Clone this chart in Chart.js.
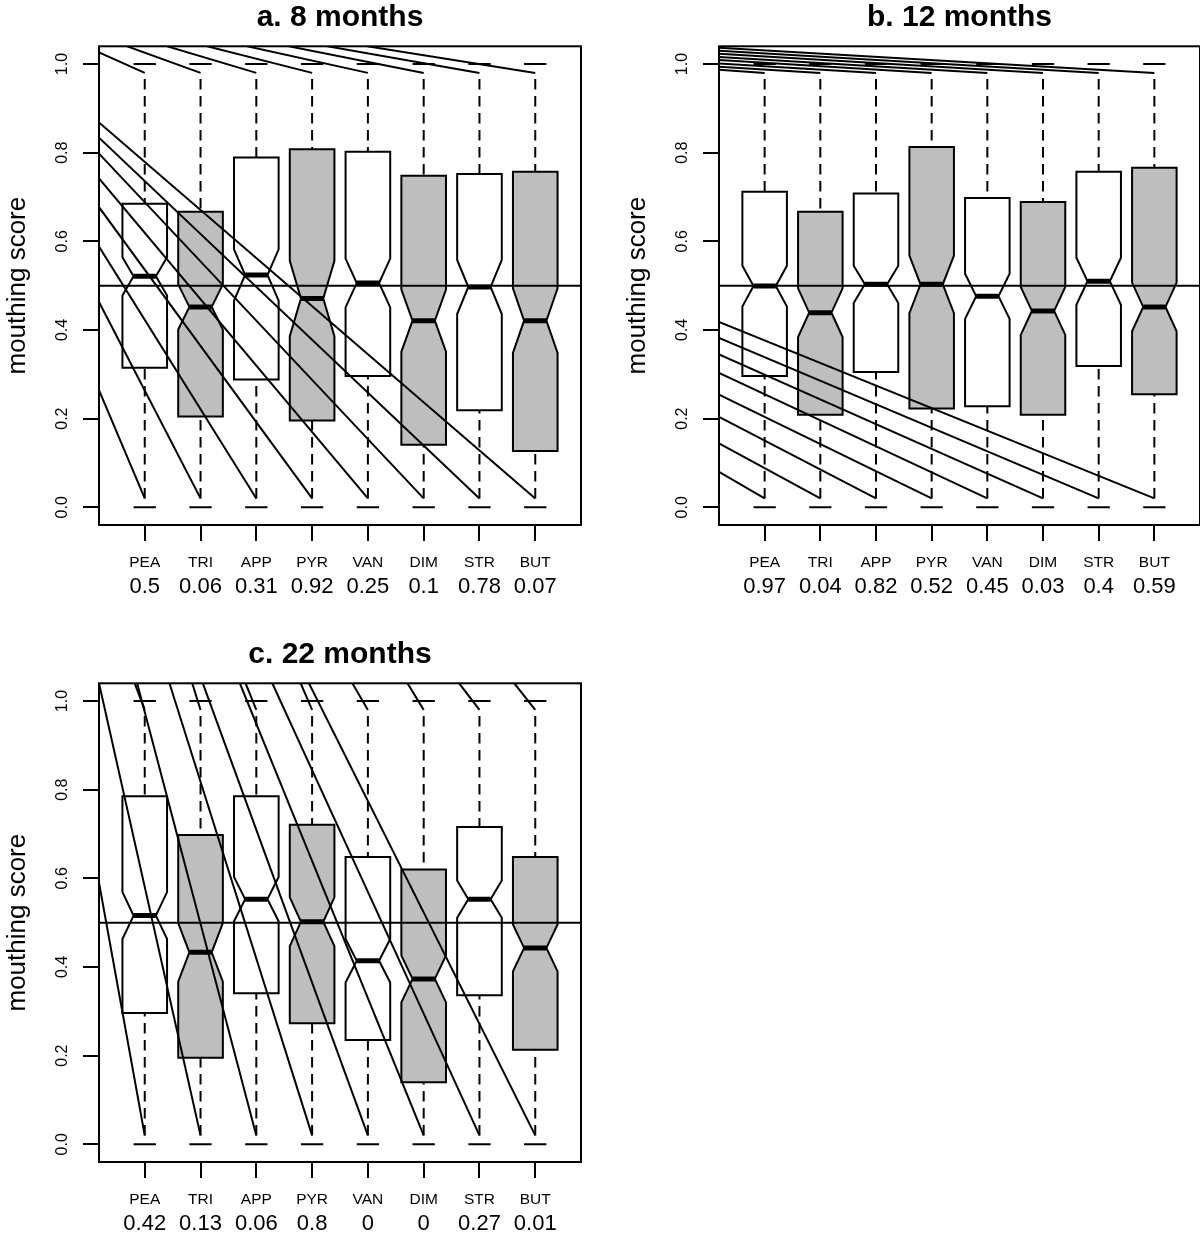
<!DOCTYPE html>
<html>
<head>
<meta charset="utf-8">
<title>Mouthing score by odour</title>
<script src="https://cdn.jsdelivr.net/npm/chart.js@4.4.1/dist/chart.umd.min.js"></script>
<style>
  html, body { margin: 0; padding: 0; background: #fff; }
  body { width: 1200px; height: 1236px; position: relative; overflow: hidden; }
  canvas { position: absolute; }
</style>
</head>
<body>
<canvas id="panelA" width="600" height="600" style="left:0;top:0"></canvas>
<canvas id="panelB" width="580" height="600" style="left:620px;top:0"></canvas>
<canvas id="panelC" width="600" height="600" style="left:0;top:637px"></canvas>
<script>
var categories = ['PEA', 'TRI', 'APP', 'PYR', 'VAN', 'DIM', 'STR', 'BUT'];
var shaded = [false, true, false, true, false, true, false, true];
var yTicks = [0, 0.2, 0.4, 0.6, 0.8, 1.0];
var whiskerTop = 0.98, whiskerBottom = 0.02;   // ends of the dashed whiskers
var extremeTop = 1.0, extremeBottom = 0.0;     // staples
var refLine = 0.5;

/* a. 8 months */
var upperA  = [0.685, 0.667, 0.789, 0.808, 0.802, 0.748, 0.752, 0.757];
var medianA = [0.521, 0.452, 0.524, 0.471, 0.506, 0.421, 0.497, 0.421];
var lowerA  = [0.315, 0.205, 0.288, 0.196, 0.296, 0.141, 0.219, 0.127];
var notchA  = [0.043, 0.051, 0.058, 0.085, 0.055, 0.070, 0.061, 0.073];
var pA = ['0.5', '0.06', '0.31', '0.92', '0.25', '0.1', '0.78', '0.07'];
// stray strokes running from the frame to each whisker end
var topFromXA = [0.18, 0.684, 1.402, 2.12, 2.838, 3.585, 4.274, 4.992];
var topFromYA = [1.026, 1.04, 1.04, 1.04, 1.04, 1.04, 1.04, 1.04];
var botFromXA = [0.18, 0.18, 0.18, 0.18, 0.18, 0.18, 0.18, 0.18];
var botFromYA = [0.264, 0.463, 0.588, 0.677, 0.742, 0.798, 0.834, 0.868];

/* b. 12 months */
var upperB  = [0.712, 0.667, 0.708, 0.813, 0.698, 0.689, 0.757, 0.766];
var medianB = [0.499, 0.439, 0.503, 0.503, 0.476, 0.443, 0.510, 0.452];
var lowerB  = [0.296, 0.209, 0.305, 0.223, 0.228, 0.209, 0.319, 0.255];
var notchB  = [0.046, 0.055, 0.042, 0.065, 0.051, 0.054, 0.053, 0.055];
var pB = ['0.97', '0.04', '0.82', '0.52', '0.45', '0.03', '0.4', '0.59'];
var topFromXB = [0.18, 0.18, 0.18, 0.18, 0.18, 0.18, 0.18, 0.18];
var topFromYB = [0.987, 0.994, 1.001, 1.009, 1.016, 1.023, 1.030, 1.037];
var botFromXB = [0.18, 0.18, 0.18, 0.18, 0.18, 0.18, 0.18, 0.18];
var botFromYB = [0.080, 0.144, 0.204, 0.254, 0.303, 0.345, 0.382, 0.418];

/* c. 22 months */
var upperC  = [0.785, 0.698, 0.785, 0.721, 0.648, 0.620, 0.716, 0.648];
var medianC = [0.516, 0.433, 0.553, 0.502, 0.414, 0.373, 0.553, 0.443];
var lowerC  = [0.296, 0.195, 0.341, 0.273, 0.235, 0.140, 0.336, 0.213];
var notchC  = [0.053, 0.066, 0.050, 0.055, 0.049, 0.053, 0.042, 0.053];
var pC = ['0.42', '0.13', '0.06', '0.8', '0', '0', '0.27', '0.01'];
var topFromXC = [0.820, 1.851, 2.808, 3.795, 4.722, 5.710, 6.636, 7.624];
var topFromYC = [1.04, 1.04, 1.04, 1.04, 1.04, 1.04, 1.04, 1.04];
var botFromXC = [0.18, 0.18, 0.864, 1.443, 2.041, 2.705, 3.287, 3.944];
var botFromYC = [0.59, 1.04, 1.04, 1.04, 1.04, 1.04, 1.04, 1.04];

var X_MIN = 0.18, X_MAX = 8.82, Y_MIN = -0.04, Y_MAX = 1.04;
var BOX_HALF = 0.4, NOTCH_HALF = 0.2, STAPLE_HALF = 0.2;
var FONT = '"Liberation Sans", Arial, Helvetica, sans-serif';

Chart.defaults.font.family = FONT;
Chart.defaults.color = '#000';
Chart.defaults.animation = false;

function seg(x0, y0, x1, y1, extra) {
    return Object.assign({
        data: [{ x: x0, y: y0 }, { x: x1, y: y1 }],
        showLine: true, borderColor: '#000', backgroundColor: '#000',
        borderWidth: 2, pointRadius: 0, pointHoverRadius: 0, fill: false
    }, extra || {});
}

function boxPlugin(d) {
    return {
        id: 'notchedBoxes',
        beforeDatasetsDraw: function(chart) {
            var ctx = chart.ctx, x = chart.scales.x, y = chart.scales.y;
            var kx = [-1, 1, 1, NOTCH_HALF / BOX_HALF, 1, 1, -1, -1, -NOTCH_HALF / BOX_HALF, -1];
            ctx.save();
            ctx.lineWidth = 2; ctx.strokeStyle = '#000'; ctx.lineJoin = 'miter';
            for (var i = 0; i < categories.length; i++) {
                var pos = i + 1, m = d.median[i];
                var lo = m - d.notch[i], hi = m + d.notch[i];
                var vy = [d.lower[i], d.lower[i], lo, m, hi, d.upper[i], d.upper[i], hi, m, lo];
                ctx.beginPath();
                for (var j = 0; j < kx.length; j++) {
                    var px = x.getPixelForValue(pos + kx[j] * BOX_HALF), py = y.getPixelForValue(vy[j]);
                    if (j === 0) ctx.moveTo(px, py); else ctx.lineTo(px, py);
                }
                ctx.closePath();
                ctx.fillStyle = shaded[i] ? '#bebebe' : '#ffffff';
                ctx.fill(); ctx.stroke();
            }
            ctx.restore();
        },
        afterDraw: function(chart) {
            var ctx = chart.ctx, a = chart.chartArea, y = chart.scales.y;
            ctx.save();
            ctx.lineWidth = 2; ctx.strokeStyle = '#000';
            ctx.strokeRect(a.left, a.top, a.right - a.left, a.bottom - a.top);
            ctx.font = '16px ' + FONT;
            ctx.fillStyle = '#000'; ctx.textAlign = 'center'; ctx.textBaseline = 'alphabetic';
            yTicks.forEach(function(v) {
                ctx.save();
                ctx.translate(a.left - 32, y.getPixelForValue(v));
                ctx.rotate(-Math.PI / 2);
                ctx.fillText(v.toFixed(1), 0, 0);
                ctx.restore();
            });
            ctx.restore();
        }
    };
}

function tickList() { return categories.map(function(c, i) { return { value: i + 1 }; }); }

function makePanel(id, title, d, padRight) {
    var sets = [];
    for (var i = 0; i < categories.length; i++) {
        var pos = i + 1;
        sets.push(seg(pos - NOTCH_HALF, d.median[i], pos + NOTCH_HALF, d.median[i], { borderWidth: 5, borderCapStyle: 'butt' }));
        sets.push(seg(pos, whiskerTop, pos, d.upper[i], { borderDash: [10.5, 6.5], borderDashOffset: 11 }));
        sets.push(seg(pos, whiskerBottom, pos, d.lower[i], { borderDash: [10.5, 6.5] }));
        sets.push(seg(pos - STAPLE_HALF, extremeTop, pos + STAPLE_HALF, extremeTop));
        sets.push(seg(pos - STAPLE_HALF, extremeBottom, pos + STAPLE_HALF, extremeBottom));
        sets.push(seg(d.topFromX[i], d.topFromY[i], pos, whiskerTop));
        sets.push(seg(d.botFromX[i], d.botFromY[i], pos, whiskerBottom));
    }
    sets.push(seg(X_MIN, refLine, X_MAX, refLine));

    new Chart(document.getElementById(id), {
        type: 'scatter',
        data: { datasets: sets },
        plugins: [boxPlugin(d)],
        options: {
            responsive: false,
            events: [],
            layout: { padding: { left: 0, right: padRight, top: 0, bottom: 1 } },
            plugins: {
                legend: { display: false },
                tooltip: { enabled: false },
                title: {
                    display: true, text: title, fullSize: false, color: '#000',
                    font: { size: 30, weight: 'bold' }, padding: { top: 0, bottom: 10.3 }
                }
            },
            scales: {
                x: {
                    type: 'linear', position: 'bottom', min: X_MIN, max: X_MAX, weight: 0,
                    afterBuildTicks: function(s) { s.ticks = tickList(); },
                    afterFit: function(s) { s.height = 50; },
                    ticks: {
                        autoSkip: false, maxRotation: 0, minRotation: 0, padding: 12.5,
                        font: { size: 15.5 }, color: '#000',
                        callback: function(v, i) { return categories[i]; }
                    },
                    grid: { drawOnChartArea: false, drawTicks: true, tickLength: 16, color: '#000', lineWidth: 2 },
                    border: { display: false }
                },
                x2: {
                    type: 'linear', position: 'bottom', min: X_MIN, max: X_MAX, weight: 1,
                    afterBuildTicks: function(s) { s.ticks = tickList(); },
                    afterFit: function(s) { s.height = 24; },
                    ticks: {
                        autoSkip: false, maxRotation: 0, minRotation: 0, padding: 0.8,
                        font: { size: 22, lineHeight: 1 }, color: '#000',
                        callback: function(v, i) { return d.p[i]; }
                    },
                    grid: { display: false, drawTicks: false },
                    border: { display: false }
                },
                y: {
                    type: 'linear', position: 'left', min: Y_MIN, max: Y_MAX,
                    afterBuildTicks: function(s) { s.ticks = yTicks.map(function(v) { return { value: v }; }); },
                    afterFit: function(s) { s.width = 99; },
                    ticks: { display: false },
                    grid: { drawOnChartArea: false, drawTicks: true, tickLength: 16, color: '#000', lineWidth: 2 },
                    border: { display: false },
                    title: {
                        display: true, text: 'mouthing score', color: '#000',
                        font: { size: 26 }, padding: { top: 2.4, bottom: 0 }
                    }
                }
            }
        }
    });
}

makePanel('panelA', 'a. 8 months', {
    upper: upperA, median: medianA, lower: lowerA, notch: notchA, p: pA,
    topFromX: topFromXA, topFromY: topFromYA, botFromX: botFromXA, botFromY: botFromYA
}, 19);
makePanel('panelB', 'b. 12 months', {
    upper: upperB, median: medianB, lower: lowerB, notch: notchB, p: pB,
    topFromX: topFromXB, topFromY: topFromYB, botFromX: botFromXB, botFromY: botFromYB
}, 0);
makePanel('panelC', 'c. 22 months', {
    upper: upperC, median: medianC, lower: lowerC, notch: notchC, p: pC,
    topFromX: topFromXC, topFromY: topFromYC, botFromX: botFromXC, botFromY: botFromYC
}, 19);
</script>
</body>
</html>
